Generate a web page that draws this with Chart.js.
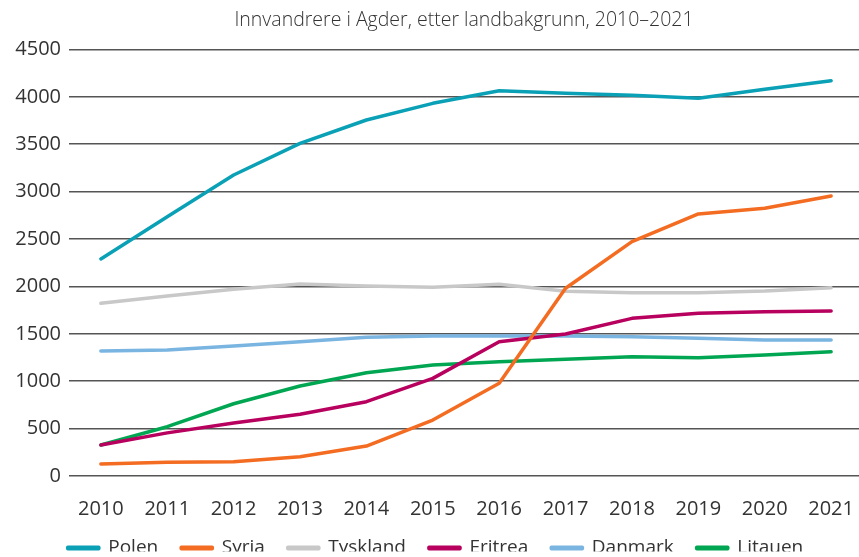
<!DOCTYPE html>
<html>
<head>
<meta charset="utf-8">
<script src="https://cdn.jsdelivr.net/npm/chart.js@4.4.1/dist/chart.umd.min.js"></script>
<style>
  html, body { margin: 0; padding: 0; background: #ffffff; }
  #wrap { width: 859px; height: 557px; position: relative; }
</style>
</head>
<body>
<div id="wrap"><canvas id="c" width="859" height="557"></canvas></div>
<script>
const years = [2010, 2011, 2012, 2013, 2014, 2015, 2016, 2017, 2018, 2019, 2020, 2021];
const yTicks = [0, 500, 1000, 1500, 2000, 2500, 3000, 3500, 4000, 4500];
const titleText = 'Innvandrere i Agder, etter landbakgrunn, 2010–2021';

const polen    = [2290, 2735, 3175, 3509, 3755, 3931, 4064, 4037, 4016, 3984, 4079, 4170];
const syria    = [127, 145, 150, 204, 316, 590, 978, 1980, 2472, 2764, 2824, 2954];
const tyskland = [1822, 1899, 1969, 2025, 2004, 1990, 2022, 1950, 1934, 1934, 1951, 1986];
const eritrea  = [327, 455, 560, 651, 784, 1030, 1417, 1498, 1663, 1716, 1733, 1740];
const danmark  = [1319, 1329, 1371, 1417, 1463, 1477, 1477, 1477, 1470, 1452, 1435, 1435];
const litauen  = [327, 520, 762, 949, 1090, 1171, 1206, 1231, 1259, 1248, 1276, 1311];

const seriesNames = ['Polen', 'Syria', 'Tyskland', 'Eritrea', 'Danmark', 'Litauen'];
const seriesValues = [polen, syria, tyskland, eritrea, danmark, litauen];
const seriesColors = ['#0aa0b6', '#f36c21', '#c8c8c8', '#b8005e', '#7ab5e2', '#00a651'];

const FONT = '"Open Sans", "DejaVu Sans", sans-serif';

const datasets = seriesNames.map((name, i) => ({
  label: name,
  data: seriesValues[i].map((v, j) => ({ x: years[j], y: v })),
  borderColor: seriesColors[i],
  backgroundColor: seriesColors[i],
  borderWidth: 3.5,
  pointRadius: 0,
  pointHoverRadius: 0,
  tension: 0,
  borderCapStyle: 'round',
  borderJoinStyle: 'round',
  fill: false
}));

// Nudges the legend row into the band the reference uses
const legendShift = {
  id: 'legendShift',
  afterLayout(chart) {
    const l = chart.legend;
    if (!l) return;
    const dy = -5.5, dx = 6;
    l.top += dy; l.bottom += dy; l.left += dx; l.right += dx;
  }
};

new Chart(document.getElementById('c'), {
  type: 'line',
  data: { datasets },
  plugins: [legendShift],
  options: {
    responsive: false,
    animation: false,
    devicePixelRatio: 1,
    layout: { padding: 0 },
    plugins: {
      tooltip: { enabled: false },
      title: {
        display: true,
        fullSize: false,
        text: titleText,
        color: '#333333',
        font: { family: FONT, size: 19.5, weight: '300', lineHeight: 1.2 },
        padding: { top: 9, bottom: 17 }
      },
      legend: {
        display: true,
        position: 'bottom',
        maxHeight: 36,
        labels: {
          color: '#333333',
          font: { family: FONT, size: 19 },
          boxWidth: 31,
          boxHeight: 1.5,
          padding: 23
        }
      }
    },
    scales: {
      x: {
        type: 'linear',
        min: 2009.52,
        max: 2021.42,
        grid: { display: false, drawTicks: false },
        border: { display: false },
        afterBuildTicks: (s) => { s.ticks = years.map(v => ({ value: v })); },
        afterFit: (s) => { s.height = 45; s.paddingLeft = 0; s.paddingRight = 0; },
        ticks: {
          includeBounds: false,
          color: '#333333',
          font: { family: FONT, size: 20, lineHeight: 1.2 },
          padding: 21,
          maxRotation: 0,
          autoSkip: false,
          callback: (v) => String(v)
        }
      },
      y: {
        min: 0,
        max: 4500,
        afterBuildTicks: (s) => { s.ticks = yTicks.map(v => ({ value: v })); },
        afterFit: (s) => { s.width = 69; },
        grid: { color: '#555555', lineWidth: 1.5, drawTicks: false },
        border: { display: false },
        ticks: {
          color: '#333333',
          font: { family: FONT, size: 20 },
          padding: 8,
          callback: (v) => String(v)
        }
      }
    }
  }
});
</script>
</body>
</html>
